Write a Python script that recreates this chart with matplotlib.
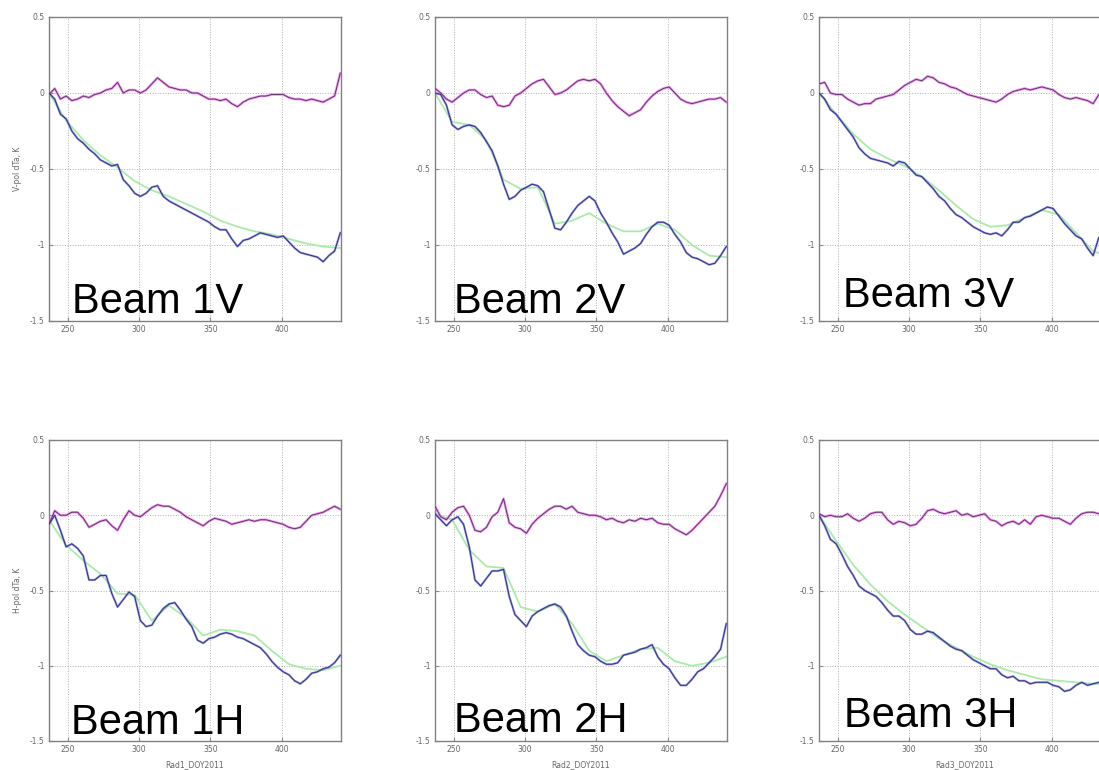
import matplotlib
matplotlib.use('Agg')
import matplotlib.pyplot as plt

# day of year samples (noisy series) and fit samples
doy = [237, 241, 245, 249, 253, 257, 261, 265, 269, 273, 277, 281, 285, 289, 293, 297, 301,
       305, 309, 313, 317, 321, 325, 329, 333, 337, 341, 345, 349, 353, 357, 361, 365, 369,
       373, 377, 381, 385, 389, 393, 397, 401, 405, 409, 413, 417, 421, 425, 429, 433, 437, 441]
doy_fit = [237, 249, 261, 273, 285, 297, 309, 321, 333, 345, 357, 369, 381, 393, 405, 417, 429, 441]

# Beam 1V
diff_1v = [-0.01, 0.03, -0.04, -0.02, -0.05, -0.04, -0.02, -0.03, -0.01, 0.0, 0.02, 0.03, 0.07,
           0.0, 0.02, 0.02, 0.0, 0.02, 0.06, 0.1, 0.07, 0.04, 0.03, 0.02, 0.02, 0.0, 0.0, -0.02,
           -0.04, -0.04, -0.05, -0.04, -0.07, -0.09, -0.06, -0.04, -0.03, -0.02, -0.02, -0.01,
           -0.01, -0.01, -0.03, -0.04, -0.04, -0.05, -0.04, -0.05, -0.06, -0.04, -0.02, 0.13]
meas_1v = [0.0, -0.04, -0.14, -0.17, -0.25, -0.3, -0.33, -0.37, -0.4, -0.44, -0.46, -0.48, -0.47,
           -0.57, -0.61, -0.66, -0.68, -0.66, -0.62, -0.61, -0.68, -0.71, -0.73, -0.75, -0.77,
           -0.79, -0.81, -0.83, -0.85, -0.88, -0.9, -0.9, -0.96, -1.01, -0.97, -0.96, -0.94,
           -0.92, -0.93, -0.94, -0.95, -0.94, -0.98, -1.02, -1.05, -1.06, -1.07, -1.08, -1.11,
           -1.07, -1.04, -0.92]
fit_1v = [0.0, -0.18, -0.31, -0.41, -0.49, -0.58, -0.64, -0.68, -0.73, -0.78, -0.84, -0.88,
          -0.91, -0.93, -0.96, -0.99, -1.01, -1.02]

# Beam 2V
diff_2v = [0.03, 0.0, -0.04, -0.06, -0.03, 0.0, 0.02, 0.02, -0.01, -0.03, -0.02, -0.08, -0.09,
           -0.08, -0.02, 0.0, 0.03, 0.06, 0.08, 0.09, 0.04, -0.01, 0.0, 0.02, 0.05, 0.08, 0.09,
           0.08, 0.09, 0.06, 0.0, -0.05, -0.09, -0.12, -0.15, -0.13, -0.11, -0.06, -0.02, 0.01,
           0.03, 0.04, 0.0, -0.04, -0.06, -0.07, -0.06, -0.05, -0.04, -0.04, -0.03, -0.06]
meas_2v = [0.0, -0.01, -0.08, -0.21, -0.24, -0.22, -0.21, -0.22, -0.26, -0.32, -0.38, -0.48,
           -0.6, -0.7, -0.68, -0.64, -0.62, -0.6, -0.61, -0.65, -0.77, -0.89, -0.9, -0.85,
           -0.79, -0.74, -0.71, -0.68, -0.71, -0.79, -0.85, -0.92, -0.98, -1.06, -1.04, -1.02,
           -0.99, -0.93, -0.88, -0.85, -0.85, -0.87, -0.93, -0.98, -1.05, -1.08, -1.09, -1.11,
           -1.13, -1.12, -1.07, -1.01]
fit_2v = [0.0, -0.19, -0.21, -0.31, -0.57, -0.63, -0.62, -0.86, -0.84, -0.79, -0.86, -0.91,
          -0.91, -0.86, -0.9, -1.0, -1.07, -1.08]

# Beam 3V
diff_3v = [0.06, 0.07, 0.0, -0.01, -0.01, -0.04, -0.06, -0.08, -0.07, -0.07, -0.04, -0.03,
           -0.02, -0.01, 0.02, 0.05, 0.07, 0.09, 0.08, 0.11, 0.1, 0.07, 0.06, 0.04, 0.03, 0.01,
           -0.01, -0.02, -0.03, -0.04, -0.05, -0.06, -0.04, -0.01, 0.01, 0.02, 0.03, 0.02, 0.03,
           0.04, 0.03, 0.02, -0.01, -0.03, -0.04, -0.03, -0.04, -0.05, -0.07, -0.01, -0.02, 0.0]
meas_3v = [0.0, -0.04, -0.11, -0.14, -0.19, -0.24, -0.29, -0.36, -0.4, -0.43, -0.44, -0.45,
           -0.46, -0.48, -0.45, -0.46, -0.5, -0.54, -0.55, -0.59, -0.63, -0.68, -0.71, -0.76,
           -0.8, -0.82, -0.85, -0.88, -0.9, -0.92, -0.93, -0.92, -0.94, -0.9, -0.85, -0.85,
           -0.82, -0.81, -0.79, -0.77, -0.75, -0.76, -0.81, -0.86, -0.9, -0.94, -0.96, -1.02,
           -1.07, -0.95, -1.0, -1.02]
fit_3v = [0.0, -0.14, -0.27, -0.37, -0.43, -0.48, -0.55, -0.64, -0.74, -0.83, -0.88, -0.87,
          -0.82, -0.77, -0.8, -0.92, -1.04, -1.08]

# Beam 1H
diff_1h = [-0.06, 0.03, 0.0, 0.0, 0.02, 0.02, -0.02, -0.08, -0.06, -0.04, -0.03, -0.07, -0.1,
           -0.03, 0.03, 0.0, -0.01, 0.02, 0.05, 0.07, 0.06, 0.06, 0.04, 0.02, -0.01, -0.03,
           -0.05, -0.07, -0.04, -0.02, -0.03, -0.04, -0.06, -0.05, -0.04, -0.03, -0.04, -0.03,
           -0.03, -0.04, -0.05, -0.06, -0.08, -0.09, -0.08, -0.04, 0.0, 0.01, 0.02, 0.04, 0.06,
           0.04]
meas_1h = [-0.06, 0.0, -0.1, -0.21, -0.19, -0.22, -0.27, -0.43, -0.43, -0.4, -0.4, -0.52,
           -0.61, -0.56, -0.51, -0.54, -0.7, -0.74, -0.73, -0.67, -0.62, -0.59, -0.58, -0.63,
           -0.69, -0.74, -0.83, -0.85, -0.82, -0.81, -0.79, -0.78, -0.79, -0.81, -0.82, -0.84,
           -0.86, -0.88, -0.92, -0.97, -1.01, -1.04, -1.06, -1.1, -1.12, -1.09, -1.05, -1.04,
           -1.02, -1.01, -0.98, -0.93]
fit_1h = [-0.03, -0.2, -0.3, -0.39, -0.52, -0.53, -0.7, -0.6, -0.68, -0.8, -0.76, -0.77,
          -0.8, -0.9, -0.99, -1.02, -1.03, -1.0]

# Beam 2H
diff_2h = [0.06, -0.01, -0.03, 0.02, 0.05, 0.06, 0.0, -0.1, -0.11, -0.08, -0.01, 0.02, 0.11,
           -0.05, -0.08, -0.09, -0.12, -0.06, -0.02, 0.01, 0.04, 0.06, 0.06, 0.04, 0.06, 0.02,
           0.01, 0.0, 0.0, -0.01, -0.03, -0.02, -0.04, -0.05, -0.03, -0.04, -0.02, -0.03, -0.02,
           -0.05, -0.06, -0.06, -0.09, -0.11, -0.13, -0.1, -0.06, -0.02, 0.02, 0.06, 0.13, 0.21]
meas_2h = [0.01, -0.03, -0.07, -0.03, -0.01, -0.06, -0.21, -0.43, -0.47, -0.42, -0.37, -0.37,
           -0.36, -0.54, -0.66, -0.7, -0.74, -0.67, -0.64, -0.62, -0.6, -0.59, -0.61, -0.67,
           -0.77, -0.86, -0.9, -0.93, -0.94, -0.97, -0.99, -0.99, -0.98, -0.93, -0.92, -0.91,
           -0.89, -0.88, -0.86, -0.94, -0.99, -1.02, -1.08, -1.13, -1.13, -1.09, -1.04, -1.02,
           -0.98, -0.94, -0.89, -0.72]
fit_2h = [0.01, -0.03, -0.23, -0.34, -0.35, -0.61, -0.64, -0.59, -0.72, -0.9, -0.97, -0.93,
          -0.89, -0.88, -0.97, -1.0, -0.98, -0.94]

# Beam 3H
diff_3h = [0.01, -0.01, 0.0, -0.01, -0.01, 0.01, -0.02, -0.04, -0.02, 0.01, 0.02, 0.02, -0.03,
           -0.06, -0.04, -0.05, -0.07, -0.06, -0.02, 0.03, 0.04, 0.02, 0.01, 0.02, 0.03, 0.0,
           0.01, -0.01, 0.0, 0.01, -0.03, -0.04, -0.07, -0.05, -0.04, -0.06, -0.03, -0.06,
           -0.01, 0.0, -0.01, -0.02, -0.02, -0.04, -0.06, -0.02, 0.01, 0.02, 0.02, 0.01, 0.0,
           0.01]
meas_3h = [0.0, -0.07, -0.16, -0.19, -0.26, -0.34, -0.4, -0.47, -0.5, -0.52, -0.54, -0.58,
           -0.63, -0.67, -0.67, -0.7, -0.76, -0.79, -0.79, -0.77, -0.78, -0.81, -0.84, -0.87,
           -0.89, -0.9, -0.93, -0.96, -0.98, -1.0, -1.02, -1.02, -1.06, -1.08, -1.07, -1.1,
           -1.1, -1.12, -1.11, -1.11, -1.11, -1.13, -1.14, -1.17, -1.16, -1.13, -1.11, -1.13,
           -1.12, -1.11, -1.12, -1.12]
fit_3h = [0.0, -0.17, -0.33, -0.46, -0.57, -0.66, -0.74, -0.82, -0.88, -0.94, -0.99, -1.03,
          -1.06, -1.09, -1.1, -1.11, -1.12, -1.12]

beam_names = ['Beam 1V', 'Beam 2V', 'Beam 3V', 'Beam 1H', 'Beam 2H', 'Beam 3H']
diffs = [diff_1v, diff_2v, diff_3v, diff_1h, diff_2h, diff_3h]
meas = [meas_1v, meas_2v, meas_3v, meas_1h, meas_2h, meas_3h]
fits = [fit_1v, fit_2v, fit_3v, fit_1h, fit_2h, fit_3h]
xlabels = ['Rad1_DOY2011', 'Rad2_DOY2011', 'Rad3_DOY2011']
ylabels = ['V-pol dTa, K', 'H-pol dTa, K']

W, H = 1099, 770
fig = plt.figure(figsize=(W / 100, H / 100), dpi=100)
fig.patch.set_facecolor('white')

# axes boxes in pixels: left, top, width, height
lefts = [49, 435, 819]
tops = [17, 440]
heights = [304, 301]
# label positions (left x, baseline y) in pixels
text_pos = [(72, 313), (454, 313), (843, 307), (71, 734), (454, 732), (844, 727)]

for i in range(6):
    r, c = divmod(i, 3)
    l, t, h = lefts[c], tops[r], heights[r]
    ax = fig.add_axes([l / W, 1 - (t + h) / H, 292 / W, h / H])
    ax.plot(doy_fit, fits[i], color='#a8eca8', lw=1.3, zorder=2)
    ax.plot(doy, meas[i], color='#7070e0', lw=1.6, alpha=0.75, zorder=3)
    ax.plot(doy, meas[i], color='#2a2a70', lw=0.6, zorder=4)
    ax.plot(doy, diffs[i], color='#ee66ee', lw=1.8, alpha=0.75, zorder=3)
    ax.plot(doy, diffs[i], color='#50305a', lw=0.6, zorder=4)
    ax.set_xlim(237, 441.5)
    ax.set_ylim(-1.5, 0.5)
    ax.set_xticks([250, 300, 350, 400])
    ax.set_yticks([0.5, 0, -0.5, -1, -1.5])
    ax.set_yticklabels(['0.5', '0', '-0.5', '-1', '-1.5'])
    ax.tick_params(direction='in', length=3, width=0.8, colors='#888888',
                   labelsize=5.5, labelcolor='#666666', pad=3)
    ax.grid(True, linestyle=':', color='#b0b0b0', lw=0.7)
    for s in ax.spines.values():
        s.set_color('#808080')
        s.set_linewidth(1.0)
    if c == 0:
        ax.set_ylabel(ylabels[r], fontsize=5.5, color='#666666', labelpad=6)
    if r == 1:
        ax.set_xlabel(xlabels[c], fontsize=5.5, color='#666666', labelpad=4)
    tx, ty = text_pos[i]
    fig.text(tx / W, 1 - ty / H, beam_names[i], fontsize=30, family='Liberation Sans',
             color='black', va='baseline', ha='left')

fig.savefig('out.png', dpi=100)
